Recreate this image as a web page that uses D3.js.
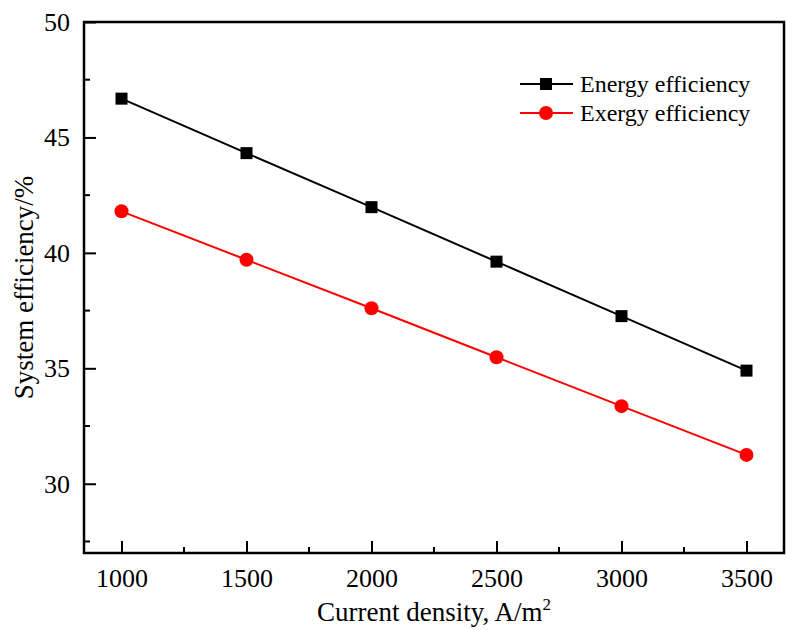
<!DOCTYPE html>
<html>
<head>
<meta charset="utf-8">
<script src="https://cdn.jsdelivr.net/npm/d3@7"></script>
<style>
  body { margin: 0; background: #fff; }
  text { font-family: "Liberation Serif", "Times New Roman", serif; fill: #000; }
</style>
</head>
<body>
<div id="chart"></div>
<script>
// data
var density = [1000, 1500, 2000, 2500, 3000, 3500];
var energy = [46.68, 44.32, 41.98, 39.62, 37.26, 34.9];
var exergy = [41.8, 39.7, 37.6, 35.48, 33.36, 31.25];
var xTicks = [1000, 1500, 2000, 2500, 3000, 3500];
var yTicks = [30, 35, 40, 45, 50];
var seriesNames = ["Energy efficiency", "Exergy efficiency"];

var W = 787, H = 630;
var margin = {top: 22, right: 3, bottom: 77, left: 84},
    width = W - margin.left - margin.right,
    height = H - margin.top - margin.bottom;

var svg = d3.select("#chart").append("svg")
    .attr("width", W)
    .attr("height", H);

var g = svg.append("g")
    .attr("transform", "translate(" + margin.left + "," + margin.top + ")");

var x = d3.scaleLinear().domain([850, 3650]).range([0, width]);
var y = d3.scaleLinear().domain([27, 50]).range([height, 0]);

// minor ticks (inward, short)
var xMinor = d3.range(1250, 3500, 500);
var yMinor = d3.range(27.5, 50, 5);

g.selectAll(".xminor").data(xMinor).enter().append("line")
    .attr("x1", function(d) { return x(d); }).attr("x2", function(d) { return x(d); })
    .attr("y1", height).attr("y2", height - 6)
    .attr("stroke", "#000").attr("stroke-width", 2);
g.selectAll(".yminor").data(yMinor).enter().append("line")
    .attr("x1", 0).attr("x2", 6)
    .attr("y1", function(d) { return y(d); }).attr("y2", function(d) { return y(d); })
    .attr("stroke", "#000").attr("stroke-width", 2);

// axes with inward major ticks
var xAxis = g.append("g")
    .attr("transform", "translate(0," + height + ")")
    .call(d3.axisBottom(x).tickValues(xTicks).tickFormat(d3.format("d"))
      .tickSizeInner(-12).tickSizeOuter(0).tickPadding(16));
var yAxis = g.append("g")
    .call(d3.axisLeft(y).tickValues(yTicks).tickFormat(d3.format("d"))
      .tickSizeInner(-12).tickSizeOuter(0).tickPadding(14));

[xAxis, yAxis].forEach(function(a) {
  a.select(".domain").remove();
  a.selectAll("line").attr("stroke", "#000").attr("stroke-width", 2);
  a.selectAll("text").attr("font-size", 26).attr("font-family", "Liberation Serif");
});

// frame
g.append("rect")
    .attr("x", 0).attr("y", 0)
    .attr("width", width).attr("height", height)
    .attr("fill", "none").attr("stroke", "#000").attr("stroke-width", 2.5);

// lines
var line = d3.line()
    .x(function(d) { return x(d[0]); })
    .y(function(d) { return y(d[1]); });

var energyPts = density.map(function(d, i) { return [d, energy[i]]; });
var exergyPts = density.map(function(d, i) { return [d, exergy[i]]; });

g.append("path").datum(energyPts).attr("d", line)
    .attr("fill", "none").attr("stroke", "#000").attr("stroke-width", 2);
g.append("path").datum(exergyPts).attr("d", line)
    .attr("fill", "none").attr("stroke", "#ff0000").attr("stroke-width", 2);

g.selectAll(".sq").data(energyPts).enter().append("rect")
    .attr("x", function(d) { return x(d[0]) - 6; })
    .attr("y", function(d) { return y(d[1]) - 6; })
    .attr("width", 12).attr("height", 12)
    .attr("fill", "#000");
g.selectAll(".dot").data(exergyPts).enter().append("circle")
    .attr("cx", function(d) { return x(d[0]); })
    .attr("cy", function(d) { return y(d[1]); })
    .attr("r", 7)
    .attr("fill", "#ff0000");

// legend
var legend = svg.append("g");
var rows = [{name: seriesNames[0], color: "#000", shape: "square", y: 84},
            {name: seriesNames[1], color: "#ff0000", shape: "circle", y: 113}];
rows.forEach(function(r) {
  legend.append("line").attr("x1", 520).attr("x2", 573)
      .attr("y1", r.y).attr("y2", r.y)
      .attr("stroke", r.color).attr("stroke-width", 2);
  if (r.shape === "square") {
    legend.append("rect").attr("x", 546 - 6).attr("y", r.y - 6)
        .attr("width", 12).attr("height", 12).attr("fill", r.color);
  } else {
    legend.append("circle").attr("cx", 546).attr("cy", r.y).attr("r", 7).attr("fill", r.color);
  }
  legend.append("text").attr("x", 580).attr("y", r.y + 8)
      .attr("font-size", 24).text(r.name);
});

// axis titles
var xt = svg.append("text")
    .attr("x", margin.left + width / 2).attr("y", 621)
    .attr("text-anchor", "middle").attr("font-size", 27);
xt.append("tspan").text("Current density, A/m");
xt.append("tspan").attr("font-size", 17).attr("dy", -11).text("2");

svg.append("text")
    .attr("transform", "translate(33," + (margin.top + height / 2) + ") rotate(-90)")
    .attr("text-anchor", "middle").attr("font-size", 27)
    .text("System efficiency/%");
</script>
</body>
</html>
